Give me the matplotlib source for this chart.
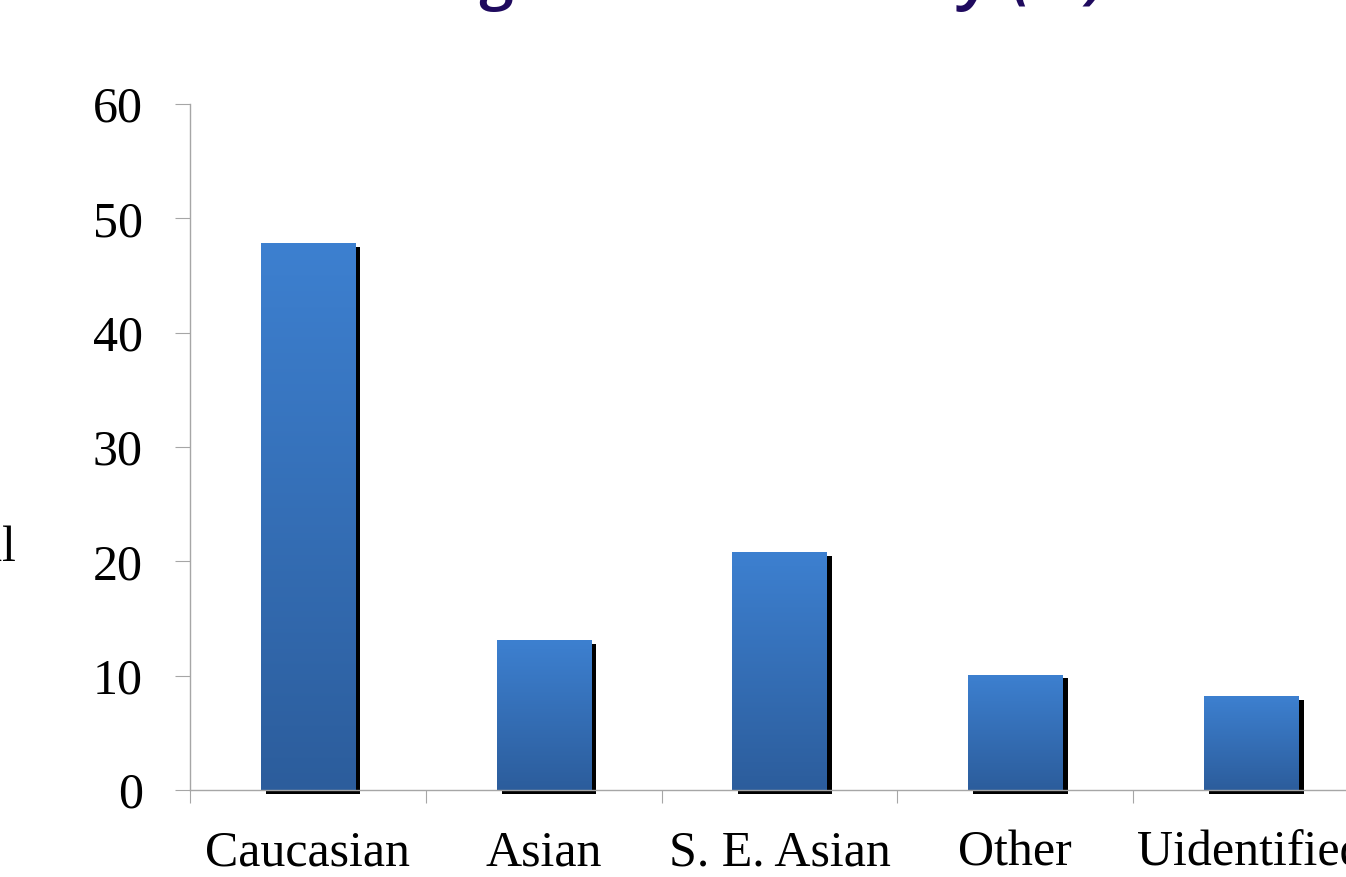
import numpy as np
import matplotlib.pyplot as plt
import matplotlib.patheffects as pe
from matplotlib.colors import LinearSegmentedColormap

categories = ["Caucasian", "Asian", "S. E. Asian", "Other", "Uidentified"]
values = [47.8, 13.1, 20.8, 10.1, 8.2]
yticks = [0, 10, 20, 30, 40, 50, 60]

plt.rcParams['font.family'] = ['Liberation Serif', 'DejaVu Serif']

fig = plt.figure(figsize=(13.46, 8.77), dpi=100)
ax = fig.add_axes([0.1412, 0.0992, 0.8759, 0.7822])

x = np.arange(len(categories))
width = 0.40
grad = LinearSegmentedColormap.from_list("bar", ["#2C5D9C", "#3D80D0"])

bars = ax.bar(x, values, width=width, color="#3570B8", zorder=2, clip_on=False,
              path_effects=[pe.SimplePatchShadow(offset=(3.8, -2.6), shadow_rgbFace='black', alpha=1.0),
                            pe.Normal()])
g = np.linspace(0, 1, 256).reshape(-1, 1)
for b in bars:
    im = ax.imshow(g, cmap=grad, origin='lower', aspect='auto', zorder=3,
                   extent=[b.get_x(), b.get_x() + b.get_width(), 0, b.get_height()])
    im.set_clip_path(b)

ax.set_xlim(-0.5, len(categories) - 0.5)
ax.set_ylim(0, 60)
ax.set_yticks(yticks)
ax.set_yticklabels([str(v) for v in yticks])

# category boundaries as ticks, labels at centres
ax.set_xticks(np.arange(len(categories) + 1) - 0.5)
ax.set_xticklabels([])
ax.set_xticks(x, minor=True)
ax.set_xticklabels(categories, minor=True)
ax.tick_params(axis='x', which='minor', length=0, pad=29, labelsize=36)
ax.tick_params(axis='x', which='major', length=9, color='#A6A6A6')
ax.tick_params(axis='y', length=11, color='#A6A6A6', pad=23, labelsize=36)

for s in ['top', 'right']:
    ax.spines[s].set_visible(False)
for s in ['left', 'bottom']:
    ax.spines[s].set_color('#A6A6A6')
    ax.spines[s].set_linewidth(1.0)
    ax.spines[s].set_zorder(4)

# y label, mostly cut off at the left edge
fig.text(0.0115, 0.374, "Total", ha='right', va='center', fontsize=36)

# title, mostly cut off at the top edge
fig.text(0.823, 1.0040, "Breakdown according to the Ethnicity (%)", ha='right', va='baseline',
         fontsize=48, fontweight='semibold', fontstyle='italic', color='#1F0A5E',
         family=['Open Sans', 'DejaVu Sans'])

fig.savefig("out.png", dpi=100)
